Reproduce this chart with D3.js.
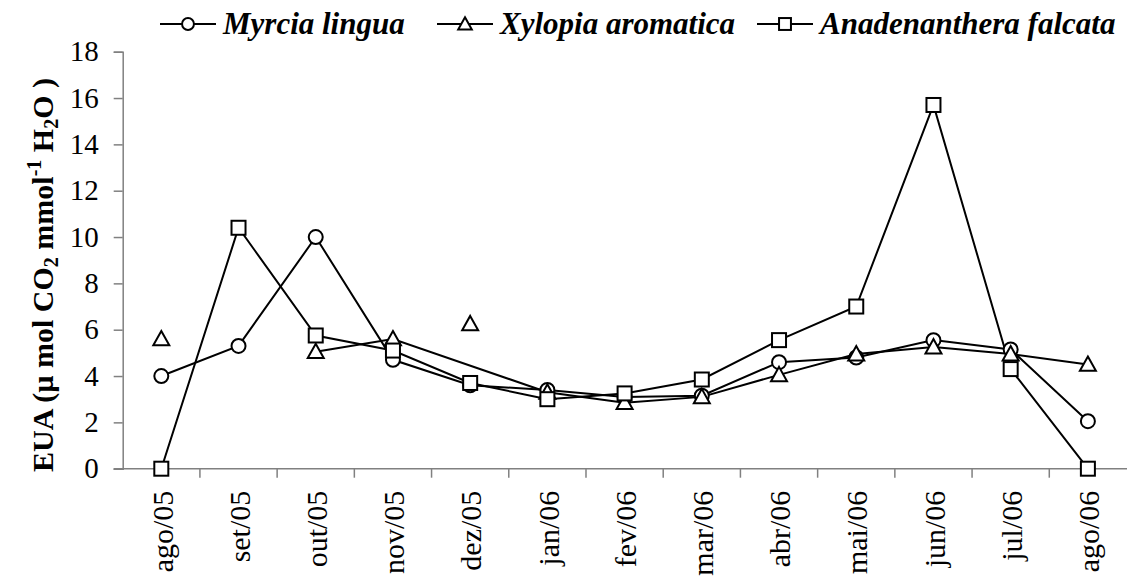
<!DOCTYPE html>
<html>
<head>
<meta charset="utf-8">
<script src="https://cdn.jsdelivr.net/npm/d3@7"></script>
<style>
  body { margin: 0; background: #fff; }
</style>
</head>
<body>
<script>
var meses = ["ago/05", "set/05", "out/05", "nov/05", "dez/05", "jan/06", "fev/06",
             "mar/06", "abr/06", "mai/06", "jun/06", "jul/06", "ago/06"];
var myrcia = [4.0, 5.3, 10.0, 4.7, 3.6, 3.4, 3.1, 3.15, 4.6, 4.8, 5.55, 5.15, 2.05];
var xylopia = [5.6, null, 5.05, 5.6, 6.25, 3.3, 2.85, 3.1, 4.05, 4.95, 5.25, 4.95, 4.5];
// pontos de Xylopia que aparecem sem ligacao na linha
var xylopiaSoltos = ["dez/05"];
var anadenanthera = [0, 10.4, 5.75, 5.1, 3.7, 3.0, 3.25, 3.85, 5.55, 7.0, 15.7, 4.3, 0];
var yTicks = [0, 2, 4, 6, 8, 10, 12, 14, 16, 18];

var series = [
    { nome: "Myrcia lingua", valores: myrcia, simbolo: "circulo", soltos: [] },
    { nome: "Xylopia aromatica", valores: xylopia, simbolo: "triangulo", soltos: xylopiaSoltos },
    { nome: "Anadenanthera falcata", valores: anadenanthera, simbolo: "quadrado", soltos: [] }
];

var fonte = "'Liberation Serif'";
var w = 1127, h = 579;

var svg = d3.select("body")
    .append("svg")
    .attr("width", w)
    .attr("height", h);

var x = d3.scaleBand()
    .domain(meses)
    .range([122.7, 1126.5])
    .paddingInner(0)
    .paddingOuter(0);

var y = d3.scaleLinear()
    .domain([0, 18])
    .range([468.7, 51.7]);

function cx(m) { return x(m) + x.bandwidth() / 2; }

// eixo y
var eixoY = svg.append("g")
    .attr("transform", "translate(" + x.range()[0] + ",0)")
    .call(d3.axisLeft(y).tickValues(yTicks).tickSize(9).tickPadding(15));
eixoY.select(".domain").attr("stroke", "#808080").attr("stroke-width", 1.5);
eixoY.selectAll(".tick line").attr("stroke", "#808080").attr("stroke-width", 1.5);
eixoY.selectAll(".tick text")
    .style("font-family", fonte)
    .style("font-size", "29px")
    .attr("fill", "#000");

// eixo x
var eixoX = svg.append("g")
    .attr("transform", "translate(0," + y(0) + ")");
eixoX.append("line")
    .attr("x1", x.range()[0] - 9)
    .attr("x2", w)
    .attr("stroke", "#808080")
    .attr("stroke-width", 1.5);
eixoX.selectAll(".tickx")
    .data(meses.slice(1))
    .enter()
    .append("line")
    .attr("class", "tickx")
    .attr("x1", function (d) { return x(d); })
    .attr("x2", function (d) { return x(d); })
    .attr("y1", 0)
    .attr("y2", 9)
    .attr("stroke", "#808080")
    .attr("stroke-width", 1.5);
eixoX.selectAll(".rotulo")
    .data(meses)
    .enter()
    .append("text")
    .attr("class", "rotulo")
    .attr("transform", function (d) {
        return "translate(" + (cx(d) + 1) + ",22) rotate(-90)";
    })
    .attr("text-anchor", "end")
    .attr("dy", "0.34em")
    .style("font-family", fonte)
    .style("font-size", "30px")
    .text(function (d) { return d; });

// titulo do eixo y
var titulo = svg.append("text")
    .attr("transform", "translate(53,275) rotate(-90)")
    .attr("text-anchor", "middle")
    .style("font-family", fonte)
    .style("font-size", "30px")
    .style("font-weight", "bold");
titulo.append("tspan").text("EUA (\u00b5 mol CO");
titulo.append("tspan").style("font-size", "20px").attr("dy", 5).text("2");
titulo.append("tspan").attr("dy", -5).text(" mmol");
titulo.append("tspan").style("font-size", "20px").attr("dy", -12).text("-1");
titulo.append("tspan").attr("dy", 12).text(" H");
titulo.append("tspan").style("font-size", "20px").attr("dy", 5).text("2");
titulo.append("tspan").attr("dy", -5).text("O )");

function desenhaSimbolo(g, tipo, px, py, s) {
    if (tipo === "circulo") {
        g.append("circle").attr("cx", px).attr("cy", py).attr("r", 7 * s);
    } else if (tipo === "quadrado") {
        g.append("rect")
            .attr("x", px - 7 * s).attr("y", py - 7 * s)
            .attr("width", 14 * s).attr("height", 14 * s);
    } else {
        var a = 8 * s;
        g.append("path")
            .attr("d", "M" + px + "," + (py - a) + "L" + (px + a) + "," + (py + 0.8 * a) +
                "L" + (px - a) + "," + (py + 0.8 * a) + "Z");
    }
}

var linha = d3.line()
    .defined(function (d) { return d.v != null; })
    .x(function (d) { return cx(d.m); })
    .y(function (d) { return y(d.v); });

series.forEach(function (s) {
    var pontos = meses.map(function (m, i) { return { m: m, v: s.valores[i] }; });
    var pontosLinha = pontos.filter(function (p) { return s.soltos.indexOf(p.m) < 0; });
    svg.append("path")
        .datum(pontosLinha)
        .attr("d", linha)
        .attr("fill", "none")
        .attr("stroke", "#000")
        .attr("stroke-width", 2);
});

series.forEach(function (s) {
    var g = svg.append("g")
        .attr("fill", "#fff")
        .attr("stroke", "#000")
        .attr("stroke-width", 2);
    meses.forEach(function (m, i) {
        if (s.valores[i] == null) return;
        desenhaSimbolo(g, s.simbolo, cx(m), y(s.valores[i]), 1);
    });
});

// legenda
var legX = [160, 437, 757];
series.forEach(function (s, i) {
    var g = svg.append("g").attr("transform", "translate(" + legX[i] + ",24)");
    g.append("line")
        .attr("x1", 0).attr("x2", 56)
        .attr("stroke", "#000").attr("stroke-width", 2);
    var sg = g.append("g").attr("fill", "#fff").attr("stroke", "#000").attr("stroke-width", 2);
    desenhaSimbolo(sg, s.simbolo, 28, 0, 0.85);
    g.append("text")
        .attr("x", 63)
        .attr("y", 10)
        .style("font-family", fonte)
        .style("font-size", "31px")
        .style("font-weight", "bold")
        .style("font-style", "italic")
        .text(s.nome);
});
</script>
</body>
</html>
